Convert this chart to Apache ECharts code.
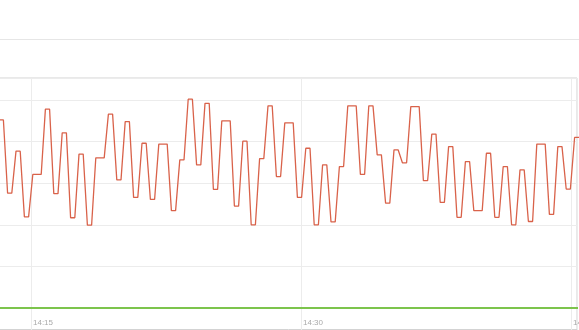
<!DOCTYPE html>
<html>
<head>
<meta charset="utf-8">
<script src="https://cdn.jsdelivr.net/npm/echarts@6/dist/echarts.min.js"></script>
<style>
html,body{margin:0;padding:0;background:#fff;}
#c{width:579px;height:330px;}
</style>
</head>
<body>
<div id="c"></div>
<script>
// Sampling: first sample time and step (seconds)
const startTime = [2024, 0, 1, 14, 13, 14];
const stepSeconds = 14;
// x axis: ticks every 15 minutes, starting at a multiple of the interval
const axisMinTime = [2024, 0, 1, 14, 0, 0];
const axisMaxTime = [2024, 0, 1, 14, 45, 20];
const xIntervalMinutes = 15;

// Red series values
const redValues = [
  45.2, 45.2, 27.6, 27.6, 37.7, 37.7, 21.9, 21.9, 32.1, 32.1,
  32.1, 47.8, 47.8, 27.5, 27.5, 42.1, 42.1, 21.7, 21.7, 37.0,
  37.0, 19.9, 19.9, 36.1, 36.1, 36.1, 46.6, 46.6, 30.8, 30.8,
  44.8, 44.8, 26.6, 26.6, 39.6, 39.6, 26.1, 26.1, 39.4, 39.4,
  39.4, 23.4, 23.4, 35.6, 35.6, 50.2, 50.2, 34.4, 34.4, 49.2,
  49.2, 28.5, 28.5, 45.0, 45.0, 45.0, 24.5, 24.5, 40.1, 40.1,
  20.0, 20.0, 35.9, 35.9, 48.6, 48.6, 31.6, 31.6, 44.5, 44.5,
  44.5, 26.6, 26.6, 38.4, 38.4, 20.0, 20.0, 34.4, 34.4, 20.7,
  20.7, 34.0, 34.0, 48.6, 48.6, 48.6, 32.1, 32.1, 48.6, 48.6,
  36.8, 36.8, 25.2, 25.2, 38.0, 38.0, 34.9, 34.9, 48.4, 48.4,
  48.4, 30.6, 30.6, 41.8, 41.8, 25.4, 25.4, 38.8, 38.8, 21.8,
  21.8, 35.2, 35.2, 23.4, 23.4, 23.4, 37.2, 37.2, 21.8, 21.8,
  34.0, 34.0, 20.0, 20.0, 33.2, 33.2, 20.8, 20.8, 39.4, 39.4,
  39.4, 22.5, 22.5, 38.8, 38.8, 28.6, 28.6, 41.0, 41.0, 41.0
];

// Green series values
const greenValues = [
  0,0,0,0,0,0,0,0,0,0, 0,0,0,0,0,0,0,0,0,0,
  0,0,0,0,0,0,0,0,0,0, 0,0,0,0,0,0,0,0,0,0,
  0,0,0,0,0,0,0,0,0,0, 0,0,0,0,0,0,0,0,0,0,
  0,0,0,0,0,0,0,0,0,0, 0,0,0,0,0,0,0,0,0,0,
  0,0,0,0,0,0,0,0,0,0, 0,0,0,0,0,0,0,0,0,0,
  0,0,0,0,0,0,0,0,0,0, 0,0,0,0,0,0,0,0,0,0,
  0,0,0,0,0,0,0,0,0,0, 0,0,0,0,0,0,0,0,0,0
];

// y axis ticks
const yMin = -10;
const yMax = 55.29;
const yInterval = 10;

function t(a) { return new Date(a[0], a[1], a[2], a[3], a[4], a[5]).getTime(); }
const t0 = t(startTime);
const times = redValues.map((_, i) => t0 + i * stepSeconds * 1000);

function pad(n) { return (n < 10 ? '0' : '') + n; }
function fmtTime(v) { const d = new Date(v); return pad(d.getHours()) + ':' + pad(d.getMinutes()); }

const chart = echarts.init(document.getElementById('c'), null, { renderer: 'canvas' });
chart.setOption({
  animation: false,
  backgroundColor: '#fff',
  grid: {
    left: -239, right: 2, top: 78, bottom: -19.6,
    outerBoundsMode: 'none',
    containLabel: false,
    show: true, borderColor: '#d3d3d3', borderWidth: 1
  },
  xAxis: {
    type: 'value',
    min: t(axisMinTime),
    max: t(axisMaxTime),
    interval: xIntervalMinutes * 60 * 1000,
    axisLine: { show: false, onZero: false },
    axisTick: { show: false },
    splitLine: { show: true, lineStyle: { color: '#ececec', width: 1 } },
    axisLabel: {
      inside: true,
      margin: 23,
      align: 'left',
      padding: [0, 0, 0, 2],
      color: '#aaaaaa',
      fontSize: 8,
      fontFamily: 'sans-serif',
      showMaxLabel: false,
      formatter: fmtTime
    }
  },
  yAxis: {
    type: 'value',
    min: yMin, max: yMax, interval: yInterval,
    axisLine: { show: false },
    axisTick: { show: false },
    axisLabel: { show: false },
    splitLine: { show: true, lineStyle: { color: '#ececec', width: 1 } }
  },
  graphic: [
    { type: 'line', silent: true, shape: { x1: 0, y1: 39.5, x2: 579, y2: 39.5 }, style: { stroke: '#e6e6e6', lineWidth: 1 } },
    { type: 'line', silent: true, shape: { x1: 0, y1: 329.5, x2: 577, y2: 329.5 }, style: { stroke: '#d3d3d3', lineWidth: 1 } }
  ],
  series: [
    {
      type: 'line',
      data: times.map((x, i) => [x, greenValues[i]]),
      showSymbol: false,
      lineStyle: { color: '#7cc44c', width: 2 },
      itemStyle: { color: '#7cc44c' },
      z: 2
    },
    {
      type: 'line',
      data: times.map((x, i) => [x, redValues[i]]),
      showSymbol: false,
      lineStyle: { color: '#d9624a', width: 1.3 },
      itemStyle: { color: '#d9624a' },
      z: 3
    }
  ]
});
</script>
</body>
</html>
